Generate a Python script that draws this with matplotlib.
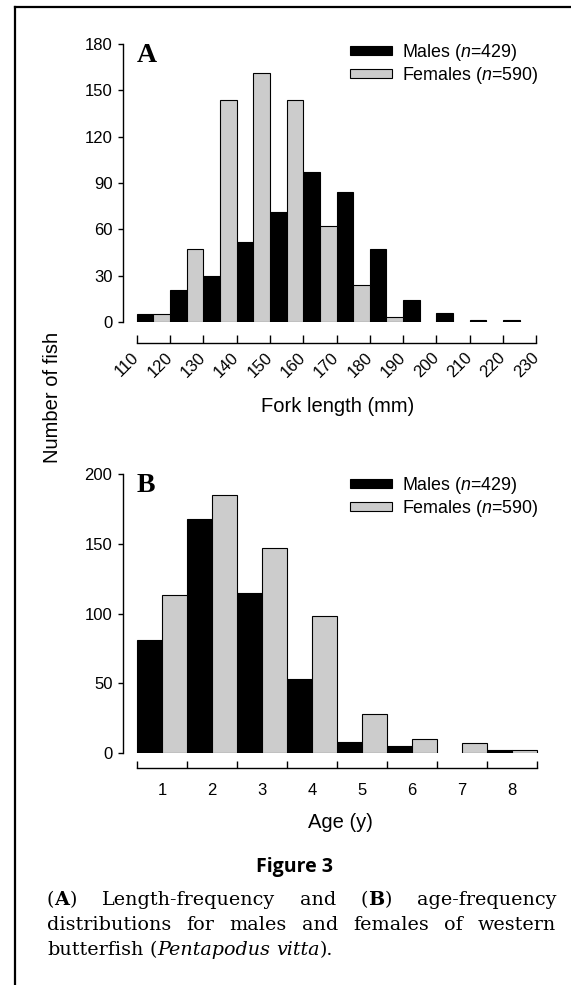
import re
import matplotlib
matplotlib.use("Agg")
import matplotlib.pyplot as plt
from matplotlib.lines import Line2D
from matplotlib.patches import Patch

plt.rcParams['font.family'] = ['Liberation Sans', 'DejaVu Sans']
plt.rcParams['mathtext.fontset'] = 'custom'
plt.rcParams['mathtext.rm'] = 'Liberation Sans'
plt.rcParams['mathtext.it'] = 'Liberation Sans:italic'
plt.rcParams['mathtext.bf'] = 'Liberation Sans:bold'

# ---------------- data ----------------
length_bins = [110, 120, 130, 140, 150, 160, 170, 180, 190, 200, 210, 220]
length_males = [5, 21, 30, 52, 71, 97, 84, 47, 14, 6, 1, 1]
length_females = [5, 47, 144, 161, 144, 62, 24, 3, 0, 0, 0, 0]
length_ticks = [110, 120, 130, 140, 150, 160, 170, 180, 190, 200, 210, 220, 230]

ages = [1, 2, 3, 4, 5, 6, 7, 8]
age_males = [81, 168, 115, 53, 8, 5, 0, 2]
age_females = [113, 185, 147, 98, 28, 10, 7, 2]

male_label = "Males ($n$=429)"
female_label = "Females ($n$=590)"
ylabel = "Number of fish"
xlabel_a = "Fork length (mm)"
xlabel_b = "Age (y)"
fig_title = "Figure 3"
caption = [
    "(**A**) Length-frequency and (**B**) age-frequency",
    "distributions for males and females of western",
    "butterfish (_Pentapodus_ _vitta_).",
]

# ---------------- layout helpers ----------------
W, H = 571, 985
fig = plt.figure(figsize=(W / 100, H / 100), dpi=100)
fig.patch.set_facecolor('white')


def fx(px):
    return px / W


def fy(py):
    return 1 - py / H


MALE_C = 'black'
FEM_C = '#cccccc'
EDGE_LW = 0.8


def style_axes(ax, offset_pt, tick_len_x):
    for s in ['top', 'right']:
        ax.spines[s].set_visible(False)
    ax.spines['left'].set_linewidth(1.0)
    ax.spines['bottom'].set_linewidth(1.0)
    ax.spines['bottom'].set_position(('outward', offset_pt))
    ax.tick_params(axis='y', direction='out', length=3.6, width=1.0,
                   labelsize=12, pad=4)
    ax.tick_params(axis='x', direction='in', length=tick_len_x, width=1.0,
                   labelsize=12)
    ax.set_facecolor('none')


# ---------------- panel A ----------------
axA = fig.add_axes([fx(123), fy(322), fx(540) - fx(123), fy(44) - fy(322)])
xm = [b for b, v in zip(length_bins, length_males) if v > 0]
vm = [v for v in length_males if v > 0]
xf = [b + 5 for b, v in zip(length_bins, length_females) if v > 0]
vf = [v for v in length_females if v > 0]
axA.bar(xm, vm, width=5, align='edge', color=MALE_C, edgecolor='black', linewidth=EDGE_LW)
axA.bar(xf, vf, width=5, align='edge', color=FEM_C, edgecolor='black', linewidth=EDGE_LW)
axA.set_xlim(105.89, 231.1)
axA.set_ylim(0, 180)
axA.set_yticks(range(0, 181, 30))
axA.set_xticks(length_ticks)
style_axes(axA, 15.1, 6)
axA.tick_params(axis='x', pad=9)
axA.spines['left'].set_bounds(0, 180)
axA.spines['bottom'].set_bounds(110, 230)
for lab in axA.get_xticklabels():
    lab.set_rotation(45)
    lab.set_ha('right')
    lab.set_va('center')
    lab.set_rotation_mode('anchor')

handles = [Patch(facecolor=MALE_C, edgecolor='black', linewidth=EDGE_LW),
           Patch(facecolor=FEM_C, edgecolor='black', linewidth=EDGE_LW)]
legA = axA.legend(handles, [male_label, female_label], loc='upper left',
                  bbox_to_anchor=(fx(350), fy(42)), bbox_transform=fig.transFigure,
                  frameon=False, borderpad=0, borderaxespad=0, fontsize=12.9,
                  handlelength=2.35, handleheight=0.4, handletextpad=0.55,
                  labelspacing=0.1)

# ---------------- panel B ----------------
axB = fig.add_axes([fx(123), fy(753), fx(540) - fx(123), fy(474) - fy(753)])
bxm = [a - 0.5 for a, v in zip(ages, age_males) if v > 0]
bvm = [v for v in age_males if v > 0]
bxf = [a for a, v in zip(ages, age_females) if v > 0]
bvf = [v for v in age_females if v > 0]
axB.bar(bxm, bvm, width=0.5, align='edge', color=MALE_C, edgecolor='black', linewidth=EDGE_LW)
axB.bar(bxf, bvf, width=0.5, align='edge', color=FEM_C, edgecolor='black', linewidth=EDGE_LW)
axB.set_xlim(0.22, 8.56)
axB.set_ylim(0, 200)
axB.set_yticks(range(0, 201, 50))
style_axes(axB, 10.8, 5)
axB.set_xticks(ages)
axB.set_xticks([a - 0.5 for a in ages] + [ages[-1] + 0.5], minor=True)
axB.tick_params(axis='x', which='major', length=0, pad=11)
axB.tick_params(axis='x', which='minor', direction='in', length=5, width=1.0)
axB.spines['left'].set_bounds(0, 200)
axB.spines['bottom'].set_bounds(0.5, 8.5)
axB.legend(handles, [male_label, female_label], loc='upper left',
           bbox_to_anchor=(fx(350), fy(475)), bbox_transform=fig.transFigure,
           frameon=False, borderpad=0, borderaxespad=0, fontsize=12.9,
           handlelength=2.35, handleheight=0.4, handletextpad=0.55,
           labelspacing=0.1)

# panel letters
for lbl, top in (("A", 43), ("B", 473)):
    fig.text(fx(137), fy(top), lbl, fontfamily='Liberation Serif', fontweight='bold',
             fontsize=20, va='top', ha='left')

# axis labels
fig.text(fx(53), fy(397), ylabel, rotation=90, ha='center', va='center', fontsize=14.5)
fig.text(fx(338), fy(407), xlabel_a, ha='center', va='center', fontsize=14.5)
fig.text(fx(340), fy(823), xlabel_b, ha='center', va='center', fontsize=14.5)

# figure title
fig.text(fx(295), fy(867), fig_title, fontfamily='Open Sans', fontweight='bold',
         fontsize=14, ha='center', va='center')

# ---------------- caption ----------------
renderer = fig.canvas.get_renderer()
CAP_FS = 13.8
CAP_FAMILY = 'DejaVu Serif'


def parse_word(word):
    parts = []
    for t in re.split(r'(\*\*.*?\*\*|_.*?_)', word):
        if not t:
            continue
        if t.startswith('**') and t.endswith('**') and len(t) > 4:
            parts.append((t[2:-2], 'bold', 'normal'))
        elif t.startswith('_') and t.endswith('_') and len(t) > 2:
            parts.append((t[1:-1], 'normal', 'italic'))
        else:
            parts.append((t, 'normal', 'normal'))
    return parts


def measure(s, weight, style):
    t = fig.text(0, 0, s, fontfamily=CAP_FAMILY, fontsize=CAP_FS,
                 fontweight=weight, fontstyle=style)
    w = t.get_window_extent(renderer).width
    t.remove()
    return w


space_w = measure("x x", 'normal', 'normal') - measure("xx", 'normal', 'normal')
x_left, x_right = 47, 556
baselines = [905, 930, 955]
for i, line in enumerate(caption):
    words = [parse_word(w) for w in line.split(' ')]
    widths = [[measure(p[0], p[1], p[2]) for p in w] for w in words]
    tot = sum(sum(w) for w in widths)
    justify = i < len(caption) - 1
    gap = (x_right - x_left - tot) / (len(words) - 1) if justify else space_w
    x = x_left
    for word, ws in zip(words, widths):
        for (s, wt, st), w in zip(word, ws):
            fig.text(fx(x), fy(baselines[i]), s, fontfamily=CAP_FAMILY, fontsize=CAP_FS,
                     fontweight=wt, fontstyle=st, ha='left', va='baseline')
            x += w
        x += gap

# border lines
fig.add_artist(Line2D([fx(15), fx(15)], [0, fy(7)], color='black', linewidth=1.6,
                      transform=fig.transFigure))
fig.add_artist(Line2D([fx(15), 1], [fy(7), fy(7)], color='black', linewidth=1.6,
                      transform=fig.transFigure))

fig.savefig('out.png', dpi=100, facecolor='white')
